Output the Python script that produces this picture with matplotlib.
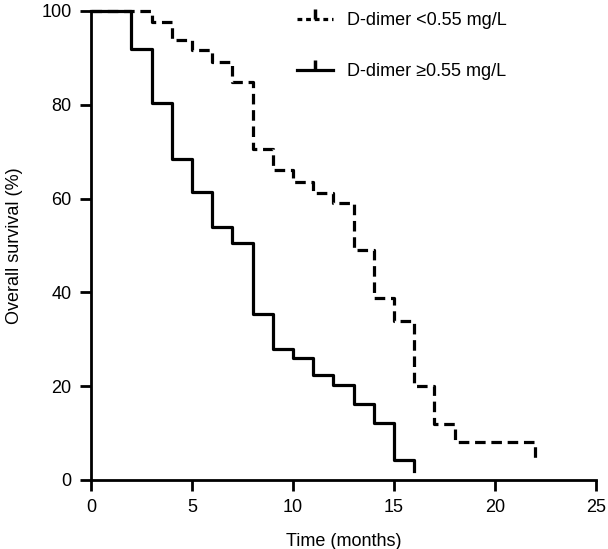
import matplotlib
matplotlib.use("Agg")
import matplotlib.pyplot as plt
from matplotlib.lines import Line2D

plt.rcParams['font.family'] = ['Liberation Sans', 'DejaVu Sans']

# D-dimer <0.55 mg/L (dashed)
low_time = [0, 3, 4, 5, 6, 7, 8, 9, 10, 11, 12, 13, 14, 15, 16, 17, 18, 22]
low_surv = [100, 97.7, 93.8, 91.7, 89.2, 84.9, 70.5, 66.0, 63.6, 61.1, 59.0, 49.0, 38.8, 34.0, 20.0, 12.0, 8.0, 3.8]

# D-dimer >=0.55 mg/L (solid)
high_time = [0, 2, 3, 4, 5, 6, 7, 8, 9, 10, 11, 12, 13, 14, 15, 16]
high_surv = [100, 92.0, 80.3, 68.5, 61.5, 54.0, 50.5, 35.5, 28.0, 26.0, 22.3, 20.3, 16.2, 12.2, 4.2, 2.0]

labels = ['D-dimer <0.55 mg/L', 'D-dimer \u22650.55 mg/L']
xticks = [0, 5, 10, 15, 20, 25]
yticks = [0, 20, 40, 60, 80, 100]

fig = plt.figure(figsize=(6.08, 5.49), dpi=100)
ax = fig.add_axes([91/608, 1-480/549, (596-91)/608, (480-11)/549])

lw = 2.3
ax.plot(low_time, low_surv, drawstyle='steps-post', color='black', lw=lw,
        ls=(0, (3.3, 1.8)), clip_on=False)
ax.plot(high_time, high_surv, drawstyle='steps-post', color='black', lw=lw,
        clip_on=False)

ax.set_xlim(0, 25)
ax.set_ylim(0, 100)
ax.set_xticks(xticks)
ax.set_yticks(yticks)
for s in ['top', 'right']:
    ax.spines[s].set_visible(False)
for s in ['left', 'bottom']:
    ax.spines[s].set_linewidth(2)
ax.tick_params(direction='out', length=8, width=2, labelsize=13, pad=6)

ax.set_xlabel('Time (months)', fontsize=13, labelpad=12)
ax.set_ylabel('Overall survival (%)', fontsize=13, labelpad=13)

handles = [
    Line2D([], [], color='black', lw=lw, ls=(0, (1.5, 1.2)), marker=2, markersize=7, markeredgewidth=2.5),
    Line2D([], [], color='black', lw=lw, marker=2, markersize=7, markeredgewidth=2.5),
]
leg = ax.legend(handles, labels, loc='upper left', bbox_to_anchor=(0.408, 0.997),
                frameon=False, fontsize=13, handlelength=2.0, handletextpad=0.75,
                labelspacing=1.88, borderpad=0, borderaxespad=0, numpoints=1)

fig.savefig('out.png', dpi=100)
